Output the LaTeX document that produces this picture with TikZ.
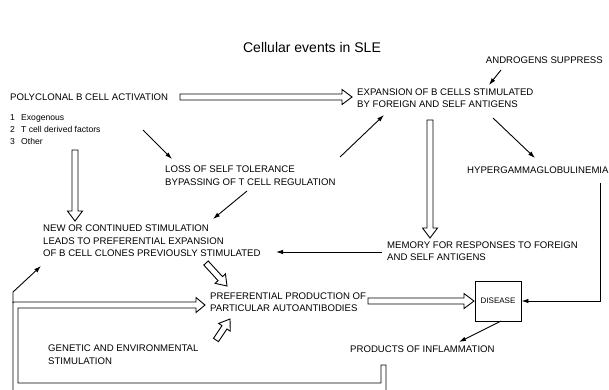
\documentclass[tikz,border=0pt]{standalone}
\usepackage{fontspec}
\setmainfont{Liberation Sans}
\usetikzlibrary{arrows.meta,calc}
\tikzset{
  lbl/.style={anchor=west, align=left, inner sep=0pt, font=\fontsize{9.6}{12.5}\selectfont},
  thinarr/.style={line width=0.9pt, -{Latex[length=7pt,width=4.5pt]}},
  plain/.style={line width=0.9pt},
  hol/.style={line width=0.9pt, line join=miter, fill=white},
  boxnode/.style={draw, line width=0.9pt, minimum width=46pt, minimum height=40pt, inner sep=0pt, font=\fontsize{8}{10}\selectfont},
}
\newcommand\hollowarrow[3][7.5]{%
  \path let \p1=#2, \p2=#3 in \pgfextra{%
    \pgfmathsetmacro\tmpang{atan2(\y2-\y1,\x2-\x1)}%
    \pgfmathsetmacro\tmplen{veclen(\x2-\x1,\y2-\y1)}%
    \xdef\Hang{\tmpang}\xdef\Hlen{\tmplen}};
  \draw[hol,shift={#2},rotate=\Hang] (0,3) -- ({\Hlen-10},3) -- ({\Hlen-10},#1) -- (\Hlen,0) -- ({\Hlen-10},-#1) -- ({\Hlen-10},-3) -- (0,-3) -- cycle;
}
\begin{document}
\begin{tikzpicture}[x=1pt,y=-1pt]
\useasboundingbox (0,0) rectangle (609,389);

% texts
\node[font=\fontsize{14}{16}\selectfont, inner sep=0pt] (title) at (312,47) {Cellular events in SLE};
\node[lbl, anchor=east] (andro) at (603,60) {ANDROGENS SUPPRESS};
\node[lbl] (poly) at (10,97) {POLYCLONAL B CELL ACTIVATION};
\node[lbl, font=\fontsize{8.6}{12}\selectfont] (list) at (10,130) {\makebox[11pt][l]{1}Exogenous\\\makebox[11pt][l]{2}T cell derived factors\\\makebox[11pt][l]{3}Other};
\node[lbl] (expan) at (357,98) {EXPANSION OF B CELLS STIMULATED\\BY FOREIGN AND SELF ANTIGENS};
\node[lbl] (loss) at (165,175.5) {LOSS OF SELF TOLERANCE\\BYPASSING OF T CELL REGULATION};
\node[lbl] (hyper) at (467,170) {HYPERGAMMAGLOBULINEMIA};
\node[lbl] (newc) at (43,241) {NEW OR CONTINUED STIMULATION\\LEADS TO PREFERENTIAL EXPANSION\\OF B CELL CLONES PREVIOUSLY STIMULATED};
\node[lbl] (memory) at (387,251) {MEMORY FOR RESPONSES TO FOREIGN\\AND SELF ANTIGENS};
\node[lbl] (pref) at (210,302) {PREFERENTIAL PRODUCTION OF\\PARTICULAR AUTOANTIBODIES};
\node[boxnode] (disease) at (498,301) {DISEASE};
\node[lbl] (products) at (350,349) {PRODUCTS OF INFLAMMATION};
\node[lbl] (genetic) at (48,354.5) {GENETIC AND ENVIRONMENTAL\\STIMULATION};

% connector end points
\coordinate (andS) at (501,70);
\coordinate (andE) at (489,85);
\coordinate (lsS) at (143,130);
\coordinate (lsE) at (172,159);
\coordinate (leS) at (340,157);
\coordinate (leE) at (384,115);
\coordinate (lnS) at (247,191);
\coordinate (lnE) at (213,219);
\coordinate (ehS) at (493,118);
\coordinate (ehE) at (535,158);
\coordinate (mnS) at (382,252);
\coordinate (mnE) at (276,252);
\coordinate (hdS) at (600,183);
\coordinate (dpS) at (501,321);
\coordinate (dpE) at (459,342);
\coordinate (lfA) at (13,303);
\coordinate (lfB) at (13,292);
\coordinate (lfE) at (41,266);

% thin arrows
\draw[thinarr] (andS) -- (andE);
\draw[thinarr] (lsS) -- (lsE);
\draw[thinarr] (leS) -- (leE);
\draw[thinarr] (lnS) -- (lnE);
\draw[thinarr] (ehS) -- (ehE);
\draw[thinarr] (mnS) -- (mnE);
\draw[thinarr] (hdS) -- (hdS |- disease.east) -- (disease.east);
\draw[thinarr] (dpS) -- (dpE);
\draw[thinarr] (lfA) -- (lfB) -- (lfE);

% hollow arrows
\coordinate (h1s) at (180,97);  \coordinate (h1e) at (352,97);
\coordinate (h2s) at (75,150);  \coordinate (h2e) at (75,221);
\coordinate (h3s) at (430,120); \coordinate (h3e) at (430,238);
\coordinate (h4s) at (206,263); \coordinate (h4e) at (227,286);
\coordinate (h5s) at (216,340); \coordinate (h5e) at (230,319);
\coordinate (h6s) at (368,301); \coordinate (h6e) at (474,301);
\hollowarrow{(h1s)}{(h1e)}
\hollowarrow{(h2s)}{(h2e)}
\hollowarrow{(h3s)}{(h3e)}
\hollowarrow[7]{(h4s)}{(h4e)}
\hollowarrow[7]{(h5s)}{(h5e)}
\hollowarrow{(h6s)}{(h6e)}

% feedback pipe
\draw[hol, fill=none] (386,395) -- (386,365) -- (381,365) -- (381,383) -- (18,383) -- (18,308)
  -- (196,308) -- (196,312.5) -- (205,305) -- (196,297.5) -- (196,302) -- (13,302) -- (13,395);
\end{tikzpicture}
\end{document}
